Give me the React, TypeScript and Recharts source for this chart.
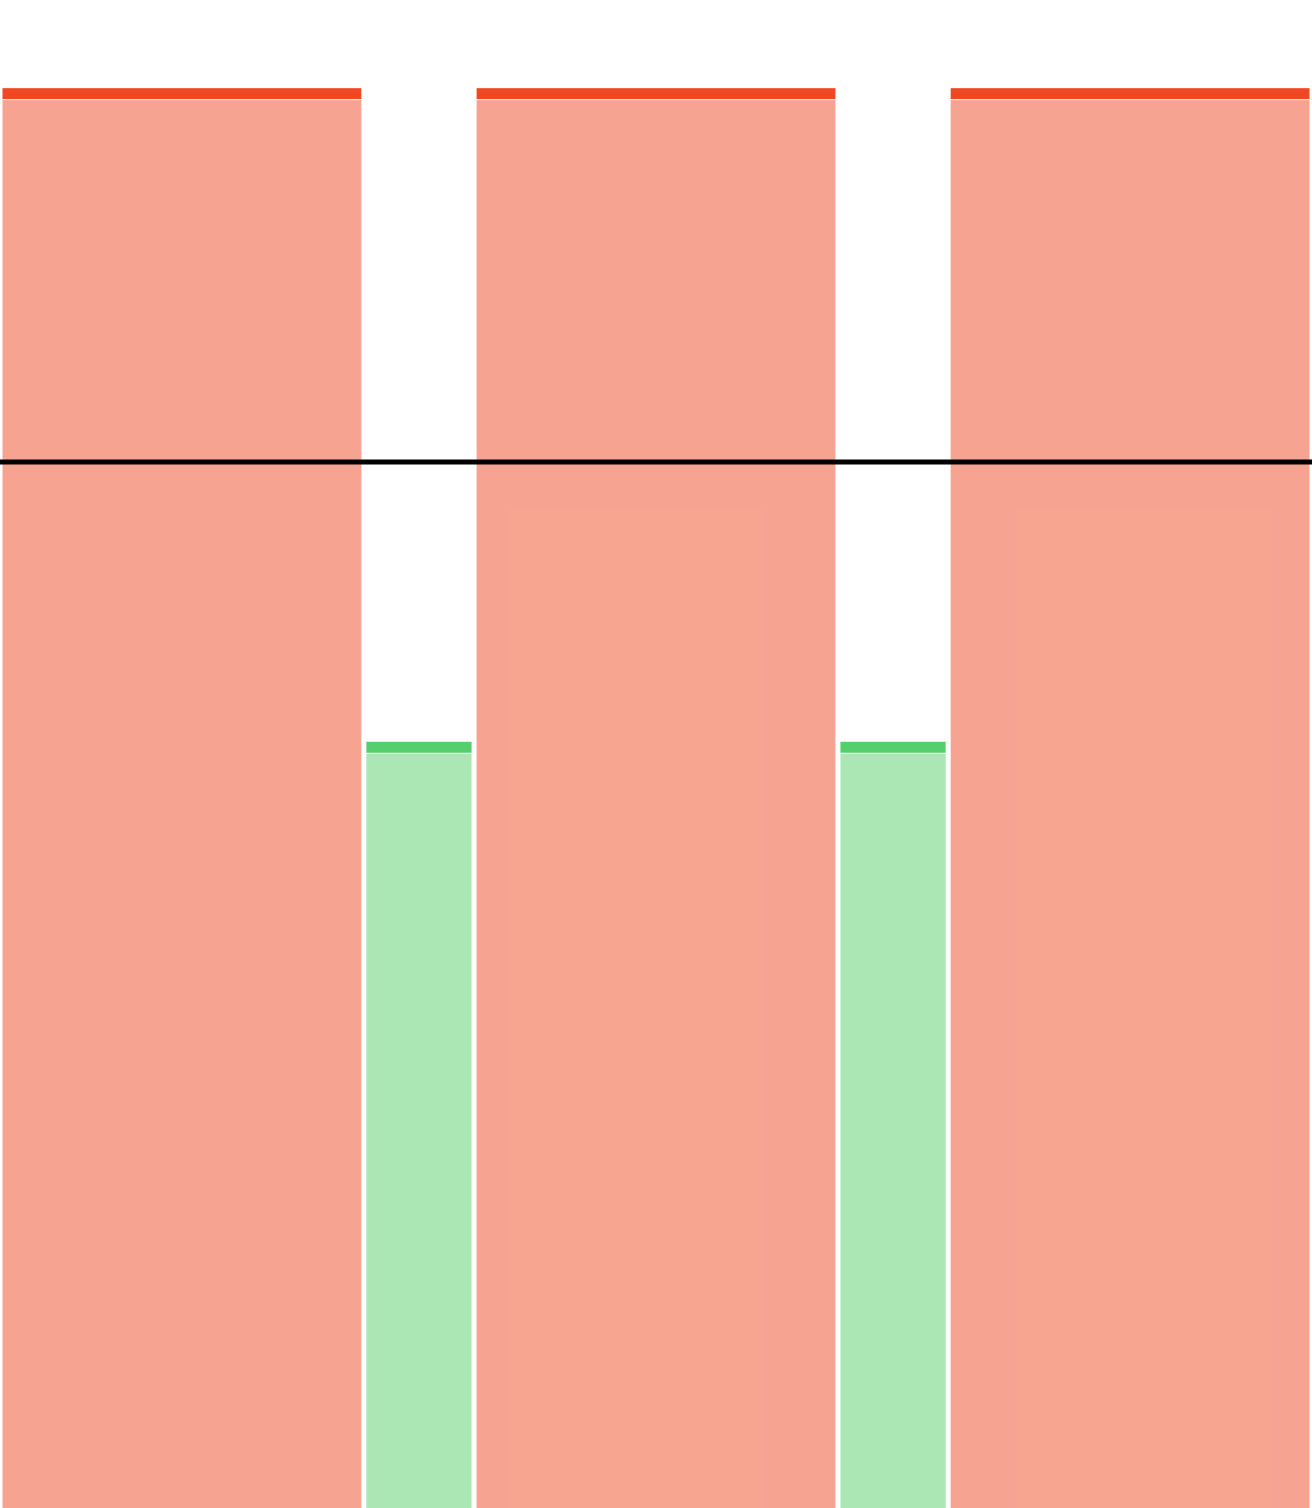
import React from 'react';
import { ComposedChart, XAxis, YAxis, ReferenceArea, ReferenceLine } from 'recharts';

const categories = ['A', 'B', 'C', 'D', 'E'];
const widths = [3.3, 1, 3.3, 1, 3.3];
const values = [94.2, 51.2, 94.2, 51.2, 94.2];
const threshold = 69.6;

const ABOVE_COLOR = '#EF4823';
const BELOW_COLOR = '#55CF6B';

const table = (() => {
  let acc = 0;
  return categories.map((name, i) => {
    const start = acc;
    acc += widths[i];
    return { name, start, end: acc, value: values[i] };
  });
})();
const total = widths.reduce((a, b) => a + b, 0);

const makeShape = (color: string) => (props: any) => {
  const { x, y, width, height } = props;
  const inset = 2.5;
  const cap = 11;
  return (
    <g>
      <rect x={x + inset} y={y} width={Math.max(0, width - inset * 2)} height={cap} fill={color} />
      <rect
        x={x + inset}
        y={y + cap + 1}
        width={Math.max(0, width - inset * 2)}
        height={Math.max(0, height - cap - 1)}
        fill={color}
        fillOpacity={0.5}
      />
    </g>
  );
};

export default function App() {
  return (
    <div style={{ position: 'absolute', left: 0, top: 0, width: 1312, height: 1508, overflow: 'hidden', background: '#fff' }}>
      <ComposedChart width={1312} height={1520} data={table} margin={{ top: 0, right: 0, bottom: 0, left: 0 }}>
        <XAxis type="number" dataKey="start" domain={[0, total]} hide allowDataOverflow />
        <YAxis type="number" domain={[0, 100]} hide allowDataOverflow />
        {table.map((d) => (
          <ReferenceArea
            key={d.name}
            x1={d.start}
            x2={d.end}
            y1={0}
            y2={d.value}
            ifOverflow="visible"
            shape={makeShape(d.value >= threshold ? ABOVE_COLOR : BELOW_COLOR)}
          />
        ))}
        <ReferenceLine y={threshold} stroke="#000" strokeWidth={5} ifOverflow="visible" />
      </ComposedChart>
    </div>
  );
}
